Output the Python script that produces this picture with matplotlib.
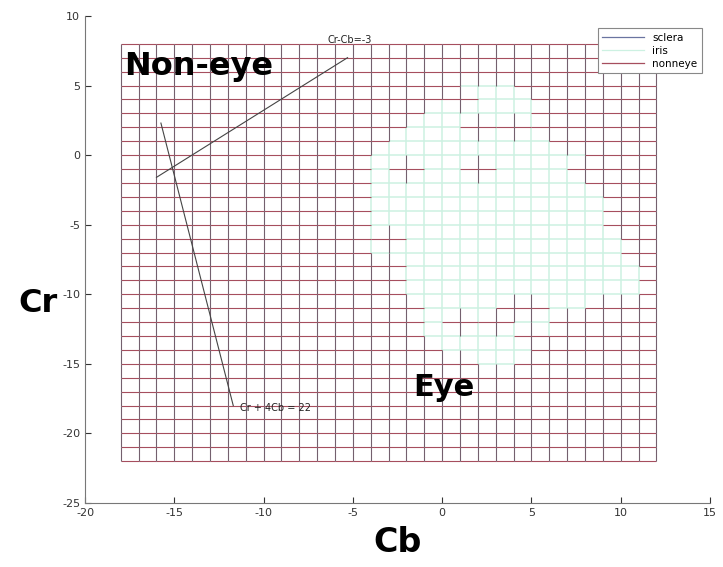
import matplotlib.pyplot as plt
from matplotlib.collections import LineCollection
import numpy as np

plt.rcParams['axes.unicode_minus'] = False

#Datos de la malla Cb-Cr
cbMin, cbMax = -18, 12
crMin, crMax = -22, 8

#Nodos clasificados como iris (por fila de Cr: rangos de Cb)
irisFilas = {
    5: [(1, 4)],
    4: [(0, 5)],
    3: [(-1, 5)],
    2: [(-2, 5)],
    1: [(-3, 6)],
    0: [(-4, 8)],
    -1: [(-4, 7)],
    -2: [(-4, 8)],
    -3: [(-4, 9)],
    -4: [(-4, 9)],
    -5: [(-4, 9)],
    -6: [(-4, 10)],
    -7: [(-4, 10)],
    -8: [(-3, 11)],
    -9: [(-2, 11)],
    -10: [(-2, 11)],
    -11: [(-1, 3), (6, 8)],
    -12: [(-1, 6)],
    -13: [(-1, 6)],
    -14: [(0, 5)],
    -15: [(2, 4)],
}
#Nodos sueltos de no-ojo dentro de la region del iris
huecos = [(1, 4), (2, 2), (4, 2), (2, -1), (-2, -1), (-3, -6), (-3, -8), (1, -12), (3, -12), (5, -13)]

#Rectas de decision
recta1Cb = [-16.0, -5.3]
recta1Cr = [-1.6, 7.0]
recta2Cb = [-15.75, -11.7]
recta2Cr = [2.3, -18.0]

#Colores
colIris = '#cdf1e2'
colNoOjoH = '#a64e5e'
colNoOjoV = '#74606e'
colEsclera = '#6a74a0'

#Mascara de nodos
cbs = np.arange(cbMin, cbMax + 1)
crs = np.arange(crMin, crMax + 1)
esIris = set()
for cr, rangos in irisFilas.items():
    for a, b in rangos:
        for cb in range(a, b + 1):
            esIris.add((cb, cr))
for h in huecos:
    esIris.discard(h)

segH_ojo, segH_no, segV_ojo, segV_no = [], [], [], []
for cr in crs:
    for cb in cbs[:-1]:
        s = [(cb, cr), (cb + 1, cr)]
        if (cb, cr) in esIris and (cb + 1, cr) in esIris:
            segH_ojo.append(s)
        else:
            segH_no.append(s)
for cb in cbs:
    for cr in crs[:-1]:
        s = [(cb, cr), (cb, cr + 1)]
        if (cb, cr) in esIris and (cb, cr + 1) in esIris:
            segV_ojo.append(s)
        else:
            segV_no.append(s)

fig = plt.figure(figsize=(7.23, 5.67), dpi=100)
ax = fig.add_axes([0.1176, 0.1129, 0.8645, 0.859])

ax.add_collection(LineCollection(segH_ojo, colors=colIris, linewidths=1.1))
ax.add_collection(LineCollection(segV_ojo, colors=colIris, linewidths=1.1))
ax.add_collection(LineCollection(segH_no, colors=colNoOjoH, linewidths=0.8))
ax.add_collection(LineCollection(segV_no, colors=colNoOjoV, linewidths=0.8))

ax.plot(recta1Cb, recta1Cr, color='#444444', lw=0.8)
ax.plot(recta2Cb, recta2Cr, color='#444444', lw=0.8)

ax.text(-6.4, 8.25, 'Cr-Cb=-3', fontsize=7, color='#222222', va='center')
ax.text(-11.3, -18.2, 'Cr + 4Cb = 22', fontsize=7, color='#222222', va='center')
ax.text(-17.8, 6.35, 'Non-eye', fontsize=23, fontweight='bold', va='center')
ax.text(-1.6, -16.7, 'Eye', fontsize=22, fontweight='bold', va='center')

#Leyenda
l1, = ax.plot([], [], color=colEsclera, lw=0.9)
l2, = ax.plot([], [], color=colIris, lw=0.9)
l3, = ax.plot([], [], color=colNoOjoH, lw=0.9)
leg = ax.legend([l1, l2, l3], ['sclera', 'iris', 'nonneye'], loc='upper right',
                bbox_to_anchor=(0.995, 0.985), fontsize=7.5, fancybox=False,
                framealpha=1, handlelength=4.0, borderpad=0.4, labelspacing=0.3)
leg.get_frame().set_edgecolor('#888888')
leg.get_frame().set_linewidth(0.8)

ax.set_xlim(-20, 15)
ax.set_ylim(-25, 10)
ax.set_xticks(np.arange(-20, 16, 5))
ax.set_yticks(np.arange(-25, 11, 5))
ax.tick_params(direction='in', length=4, labelsize=8, colors='#333333')
for lado in ['top', 'right']:
    ax.spines[lado].set_visible(False)
for lado in ['left', 'bottom']:
    ax.spines[lado].set_color('#777777')

ax.set_xlabel('Cb', fontsize=24, fontweight='bold', labelpad=6)
ax.set_ylabel('Cr', fontsize=23, fontweight='bold', rotation=0, ha='center', va='center')
ax.yaxis.set_label_coords(-0.075, 0.41)

plt.savefig('out.png', dpi=100)
